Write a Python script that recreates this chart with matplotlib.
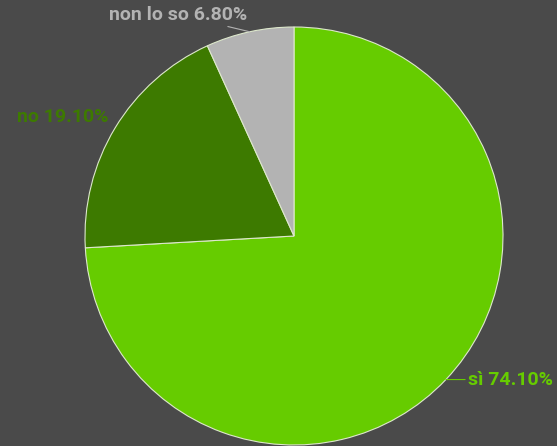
import numpy as np
import matplotlib
matplotlib.use("Agg")
import matplotlib.pyplot as plt

labels = ["sì", "no", "non lo so"]
values = [74.10, 19.10, 6.80]
colors = ["#66cc00", "#3d7a00", "#b3b3b3"]
bg = "#4a4a4a"

plt.rcParams['font.family'] = ['Roboto', 'DejaVu Sans']

W, H = 557, 446
fig = plt.figure(figsize=(W/100, H/100), dpi=100, facecolor=bg)
cx, cy, r = 294, 236, 209
ax = fig.add_axes([(cx - r)/W, (H - cy - r)/H, 2*r/W, 2*r/H])
ax.set_facecolor(bg)
wedges, _ = ax.pie(values, colors=colors, startangle=90, counterclock=False,
                   radius=1.0, wedgeprops=dict(edgecolor="#dde8cc", linewidth=0.8))
ax.set_xlim(-1, 1)
ax.set_ylim(-1, 1)
ax.set_aspect('equal')
ax.axis('off')

# label placement (offsets in pixels relative to wedge edge midpoint)
offsets = {
    "sì": ((22, 0), 'left'),
    "no": ((-7, 11), 'right'),
    "non lo so": ((-2, 17), 'right'),
}
for w, lab, val, col in zip(wedges, labels, values, colors):
    ang = np.deg2rad((w.theta1 + w.theta2) / 2)
    x, y = np.cos(ang), np.sin(ang)
    (dx, dy), ha = offsets[lab]
    ax.annotate(f"{lab} {val:.2f}%", xy=(x, y), xytext=(dx, dy),
                textcoords='offset pixels', ha=ha, va='center',
                color=col, fontsize=14, fontweight='bold',
                arrowprops=dict(arrowstyle='-', color=col, lw=0.8,
                                shrinkA=0, shrinkB=0) if lab != "no" else None,
                annotation_clip=False)

fig.savefig("out.png", dpi=100, facecolor=bg)
